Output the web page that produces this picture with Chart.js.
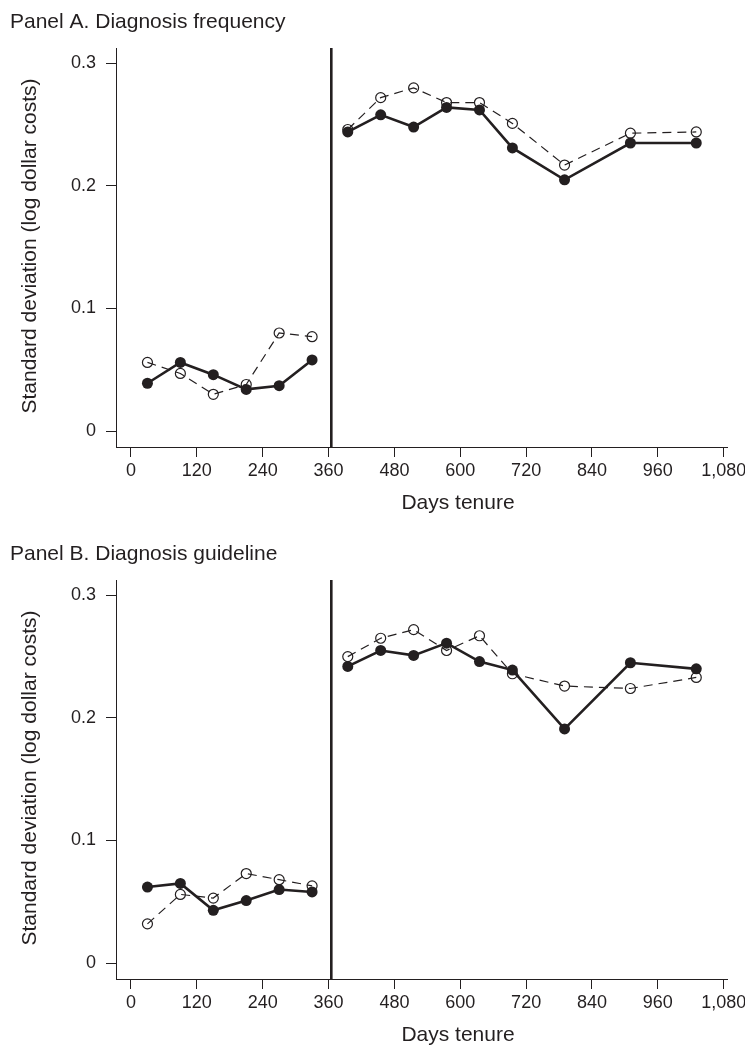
<!DOCTYPE html>
<html><head><meta charset="utf-8">
<script src="https://cdn.jsdelivr.net/npm/chart.js@4/dist/chart.umd.min.js"></script>
<style>
html,body{margin:0;padding:0;background:#fff;overflow:hidden;}
#wrap{position:relative;width:745px;height:1046px;overflow:hidden;background:#fff;}
canvas{position:absolute;left:0;}
#cA{top:0px}
#cB{top:532px}
</style></head><body>
<div id="wrap"><canvas id="cA" width="745" height="532"></canvas><canvas id="cB" width="745" height="532"></canvas></div>
<script>
// ---- data ----
const daysPre = [30, 90, 150, 210, 270, 330];
const daysPost = [395, 455, 515, 575, 635, 695, 790, 910, 1030];
const cutoffDay = 365;
const xTicks = [0, 120, 240, 360, 480, 600, 720, 840, 960, 1080];
const yTicks = [0, 0.1, 0.2, 0.3];

const panelATitle = "Panel A. Diagnosis frequency";
const panelBTitle = "Panel B. Diagnosis guideline";
const xTitle = "Days tenure";
const yTitle = "Standard deviation (log dollar costs)";

// Panel A
const aFilledPre  = [0.039, 0.056, 0.046, 0.034, 0.037, 0.058];
const aOpenPre    = [0.056, 0.047, 0.030, 0.038, 0.080, 0.077];
const aFilledPost = [0.244, 0.258, 0.248, 0.264, 0.262, 0.231, 0.205, 0.235, 0.235];
const aOpenPost   = [0.246, 0.272, 0.280, 0.268, 0.268, 0.251, 0.217, 0.243, 0.244];
// Panel B
const bFilledPre  = [0.062, 0.065, 0.043, 0.051, 0.060, 0.058];
const bOpenPre    = [0.032, 0.056, 0.053, 0.073, 0.068, 0.063];
const bFilledPost = [0.242, 0.255, 0.251, 0.261, 0.246, 0.239, 0.191, 0.245, 0.240];
const bOpenPost   = [0.250, 0.265, 0.272, 0.255, 0.267, 0.236, 0.226, 0.224, 0.233];

// ---- chart ----
const INK = '#231f20';
const FONT = '"Liberation Sans", Arial, Helvetica, sans-serif';
const X_MIN = -27.3, X_MAX = 1086;
const Y_MIN = -0.013, Y_MAX = 0.3125;

function pts(xs, ys) { return xs.map((x, i) => ({ x: x, y: ys[i] })); }

function filledDs(xs, ys) {
  return { data: pts(xs, ys), borderColor: INK, borderWidth: 2.6, pointRadius: 5.5,
    pointBackgroundColor: INK, pointBorderColor: INK, pointBorderWidth: 0, order: 0, tension: 0 };
}
function openDs(xs, ys) {
  return { data: pts(xs, ys), borderColor: INK, borderWidth: 1.2, borderDash: [9, 6], pointRadius: 5,
    pointBackgroundColor: 'rgba(0,0,0,0)', pointBorderColor: INK, pointBorderWidth: 1.2, order: 1, tension: 0 };
}

function textPlugin(title) {
  return {
    id: 'txt',
    afterDraw(chart) {
      const ctx = chart.ctx, ca = chart.chartArea;
      ctx.save();
      ctx.fillStyle = INK;
      ctx.font = '21px ' + FONT;
      ctx.textAlign = 'left';
      ctx.textBaseline = 'alphabetic';
      ctx.fillText(title, 10, 28);
      ctx.textAlign = 'center';
      ctx.fillText(xTitle, 458, 509);
      ctx.translate(36, (ca.top + ca.bottom) / 2 - 1.5);
      ctx.rotate(-Math.PI / 2);
      ctx.fillText(yTitle, 0, 0);
      ctx.restore();
    }
  };
}
function cutoffPlugin() {
  return {
    id: 'cutoff',
    beforeDatasetsDraw(chart) {
      const ctx = chart.ctx, ca = chart.chartArea;
      const x = chart.scales.x.getPixelForValue(cutoffDay);
      ctx.save();
      ctx.strokeStyle = INK; ctx.lineWidth = 2.6;
      ctx.beginPath(); ctx.moveTo(x, ca.top); ctx.lineTo(x, ca.bottom); ctx.stroke();
      ctx.restore();
    }
  };
}

function makeChart(id, title, fPre, oPre, fPost, oPost) {
  return new Chart(document.getElementById(id), {
    type: 'line',
    data: { datasets: [ filledDs(daysPre, fPre), filledDs(daysPost, fPost), openDs(daysPre, oPre), openDs(daysPost, oPost) ] },
    options: {
      responsive: false, animation: false, devicePixelRatio: 1,
      layout: { autoPadding: false, padding: { left: 0, top: 48, right: 18, bottom: 0 } },
      plugins: { legend: { display: false }, tooltip: { enabled: false } },
      scales: {
        x: {
          type: 'linear', min: X_MIN, max: X_MAX,
          afterBuildTicks: s => { s.ticks = xTicks.map(v => ({ value: v })); },
          afterFit: s => { s.height = 85; s.paddingLeft = 0; s.paddingRight = 0; },
          ticks: { callback: v => Number(v).toLocaleString('en-US'), font: { family: FONT, size: 18 }, color: INK,
                   padding: 3.5, maxRotation: 0, autoSkip: false },
          grid: { drawOnChartArea: false, drawTicks: true, tickLength: 10, color: INK, lineWidth: 1 },
          border: { display: true, color: INK, width: 1 }
        },
        y: {
          type: 'linear', min: Y_MIN, max: Y_MAX,
          afterBuildTicks: s => { s.ticks = yTicks.map(v => ({ value: v })); },
          afterFit: s => { s.width = 116; s.paddingTop = 0; s.paddingBottom = 0; },
          ticks: { callback: v => (v === 0 ? '0' : Number(v).toFixed(1)), font: { family: FONT, size: 18 }, color: INK,
                   padding: 10, autoSkip: false },
          grid: { drawOnChartArea: false, drawTicks: true, tickLength: 10, color: INK, lineWidth: 1 },
          border: { display: true, color: INK, width: 1 }
        }
      }
    },
    plugins: [textPlugin(title), cutoffPlugin()]
  });
}

makeChart('cA', panelATitle, aFilledPre, aOpenPre, aFilledPost, aOpenPost);
makeChart('cB', panelBTitle, bFilledPre, bOpenPre, bFilledPost, bOpenPost);
</script>
</body></html>
